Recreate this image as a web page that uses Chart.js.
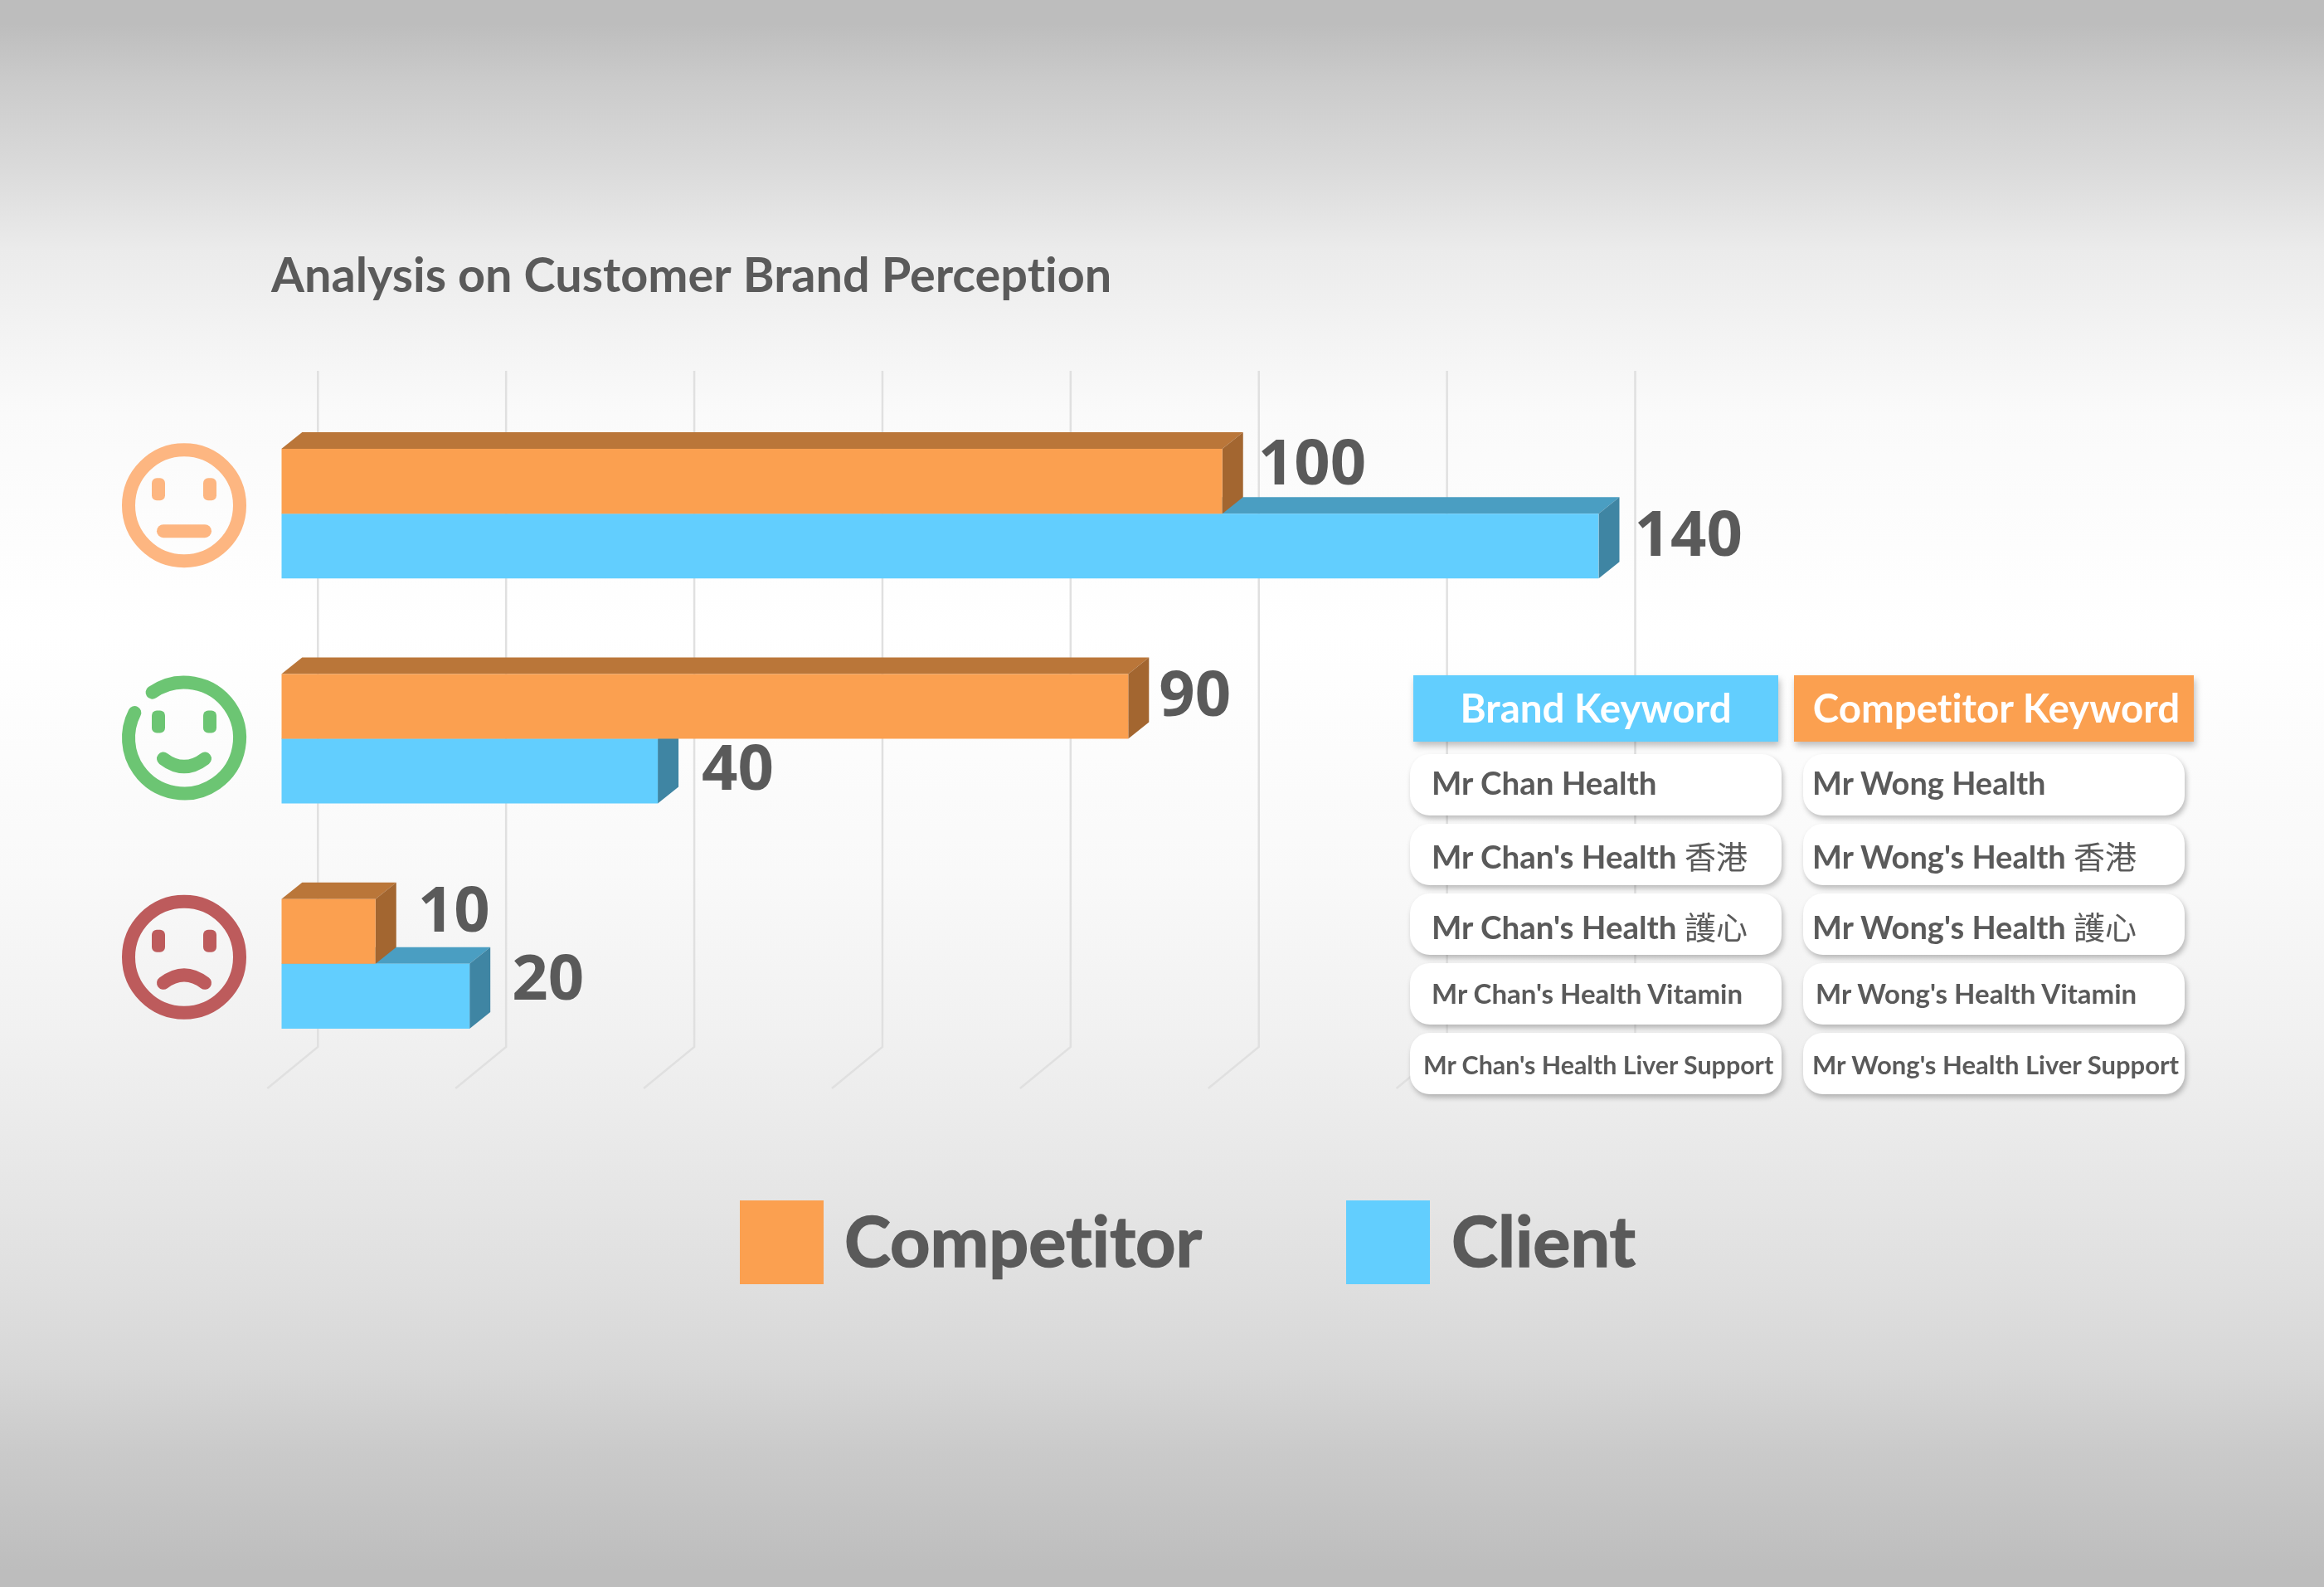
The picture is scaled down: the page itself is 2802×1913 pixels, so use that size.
<!DOCTYPE html>
<html>
<head>
<meta charset="utf-8">
<title>Analysis on Customer Brand Perception</title>
<script src="https://cdn.jsdelivr.net/npm/chart.js@4/dist/chart.umd.min.js"></script>
<style>
  html, body { margin: 0; padding: 0; background: #fff; }
  #stage { position: relative; width: 2802px; height: 1913px; overflow: hidden; font-family: Lato, "Noto Sans CJK TC", sans-serif; font-variant-ligatures: none; }
  #chart { position: absolute; left: 0; top: 0; }
  .head { position: absolute; top: 814px; height: 80px; line-height: 78px; color: #fff; font-weight: 700; font-size: 47.5px; text-align: center; box-shadow: 2px 5px 8px rgba(0,0,0,.25); }
  .pill { position: absolute; height: 74px; background: #fff; border-radius: 24px; color: #5a5a5a; font-weight: 700; white-space: nowrap; box-shadow: 2px 4px 6px rgba(0,0,0,.25); }
  .pill span { font-family: "Noto Sans CJK TC"; font-weight: 400; font-size: 38px; }
</style>
</head>
<body>
<div id="stage">
  <canvas id="chart" width="2802" height="1913"></canvas>
</div>
<script>
const categories = ['Neutral', 'Positive', 'Negative'];
const competitorValues = [100, 90, 10];
const clientValues = [140, 40, 20];
const xTicks = [0, 20, 40, 60, 80, 100, 120, 140];
const brandKeywords = ['Mr Chan Health', "Mr Chan's Health 香港", "Mr Chan's Health 護心", "Mr Chan's Health Vitamin", "Mr Chan's Health Liver Support"];
const competitorKeywords = ['Mr Wong Health', "Mr Wong's Health 香港", "Mr Wong's Health 護心", "Mr Wong's Health Vitamin", "Mr Wong's Health Liver Support"];

const ORANGE = '#fba050', ORANGE_TOP = '#ba7639', ORANGE_SIDE = '#a36630';
const BLUE = '#62cefe', BLUE_TOP = '#4a9ec2', BLUE_SIDE = '#3f85a3';
const TEXT = '#5a5a5a';
const DEPTH_X = 25, DEPTH_Y = 20;

// hand nudges for the value labels, the source placed them a bit unevenly
const nudgeX = [[18, 12, 26], [18, 28, 26]];
const nudgeY = [[-18, -10, -21], [-10, 1, -18]];

const background = {
    id: 'background',
    beforeDraw(chart) {
        const ctx = chart.ctx;
        const g = ctx.createLinearGradient(0, 0, 0, chart.height);
        g.addColorStop(0, '#bdbdbd');
        g.addColorStop(0.015, '#bdbdbd');
        g.addColorStop(0.052, '#cbcbcb');
        g.addColorStop(0.105, '#dadada');
        g.addColorStop(0.157, '#ebebeb');
        g.addColorStop(0.21, '#f3f3f3');
        g.addColorStop(0.26, '#fafafa');
        g.addColorStop(0.40, '#ffffff');
        g.addColorStop(0.55, '#f9f9f9');
        g.addColorStop(0.65, '#f1f1f1');
        g.addColorStop(0.732, '#e8e8e8');
        g.addColorStop(0.81, '#dfdfdf');
        g.addColorStop(0.8625, '#d7d7d7');
        g.addColorStop(0.915, '#cacaca');
        g.addColorStop(0.94, '#c6c6c6');
        g.addColorStop(0.99, '#bdbdbd');
        ctx.fillStyle = g;
        ctx.fillRect(0, 0, chart.width, chart.height);
        ctx.textRendering = 'optimizeSpeed'; // no "ti" ligature in Lato
    }
};

// back wall + floor lines, pushed behind the bars
const wallGrid = {
    id: 'wallGrid',
    beforeDatasetsDraw(chart) {
        const ctx = chart.ctx, x = chart.scales.x;
        ctx.save();
        ctx.strokeStyle = '#e0e0e0';
        ctx.lineWidth = 2.5;
        x.ticks.forEach(t => {
            const px = x.getPixelForValue(t.value) + 44;
            ctx.beginPath();
            ctx.moveTo(px, 447);
            ctx.lineTo(px, 1262);
            ctx.lineTo(px - 61, 1312);
            ctx.stroke();
        });
        ctx.restore();
    }
};

// top and side faces of the bars
const barFaces = {
    id: 'barFaces',
    beforeDatasetsDraw(chart) {
        const ctx = chart.ctx;
        const poly = (color, pts) => {
            ctx.fillStyle = color;
            ctx.beginPath();
            pts.forEach((p, i) => i ? ctx.lineTo(p[0], p[1]) : ctx.moveTo(p[0], p[1]));
            ctx.closePath();
            ctx.fill();
        };
        [1, 0].forEach(d => {
            chart.getDatasetMeta(d).data.forEach(bar => {
                const top = bar.y - bar.height / 2, bot = bar.y + bar.height / 2;
                poly(d ? BLUE_TOP : ORANGE_TOP, [[bar.base, top], [bar.base + DEPTH_X, top - DEPTH_Y], [bar.x + DEPTH_X, top - DEPTH_Y], [bar.x, top]]);
                poly(d ? BLUE_SIDE : ORANGE_SIDE, [[bar.x, top], [bar.x + DEPTH_X, top - DEPTH_Y], [bar.x + DEPTH_X, bot - DEPTH_Y], [bar.x, bot]]);
            });
        });
    }
};

const valueLabels = {
    id: 'valueLabels',
    afterDatasetsDraw(chart) {
        const ctx = chart.ctx;
        ctx.save();
        ctx.font = '700 76px "Open Sans"';
        ctx.fillStyle = TEXT;
        ctx.textBaseline = 'middle';
        chart.data.datasets.forEach((ds, d) => {
            chart.getDatasetMeta(d).data.forEach((bar, i) => {
                ctx.fillText(ds.data[i], bar.x + DEPTH_X + nudgeX[d][i], bar.y + nudgeY[d][i]);
            });
        });
        ctx.restore();
    }
};

// smiley faces next to the category rows
const faceColors = ['#fdb681', '#6cc573', '#bd5b5c'];
const faceNudge = [-10, -1, -8];
const faces = {
    id: 'faces',
    afterDraw(chart) {
        const ctx = chart.ctx, y = chart.scales.y;
        categories.forEach((c, i) => {
            const cx = 222, cy = y.getPixelForValue(i) + faceNudge[i];
            ctx.save();
            ctx.strokeStyle = ctx.fillStyle = faceColors[i];
            ctx.lineWidth = 16;
            ctx.lineCap = 'round';
            ctx.beginPath();
            if (c === 'Positive') ctx.arc(cx, cy, 67, 235 * Math.PI / 180, (207 + 360) * Math.PI / 180);
            else ctx.arc(cx, cy, 67, 0, Math.PI * 2);
            ctx.stroke();
            [-31, 31].forEach(dx => {
                ctx.beginPath();
                ctx.roundRect(cx + dx - 8, cy - 33, 16, 27, 6);
                ctx.fill();
            });
            ctx.beginPath();
            if (c === 'Neutral') { ctx.moveTo(cx - 25, cy + 31); ctx.lineTo(cx + 25, cy + 31); }
            if (c === 'Positive') { ctx.moveTo(cx - 25, cy + 25); ctx.quadraticCurveTo(cx, cy + 44, cx + 25, cy + 25); }
            if (c === 'Negative') { ctx.moveTo(cx - 25, cy + 31); ctx.quadraticCurveTo(cx, cy + 12, cx + 25, cy + 31); }
            ctx.stroke();
            ctx.restore();
        });
    }
};

const bottomLegend = {
    id: 'bottomLegend',
    afterDraw(chart) {
        const ctx = chart.ctx;
        const boxX = [892, 1623], textX = [1018, 1750];
        ctx.save();
        ctx.font = '700 84.5px Lato';
        ctx.textBaseline = 'middle';
        ctx.lineWidth = 1.5; // Lato bold is a bit thin next to the original
        chart.data.datasets.forEach((ds, i) => {
            ctx.fillStyle = ds.backgroundColor;
            ctx.fillRect(boxX[i], 1447, 101, 101);
            ctx.fillStyle = ctx.strokeStyle = TEXT;
            ctx.fillText(ds.label, textX[i], 1500);
            ctx.strokeText(ds.label, textX[i], 1500);
        });
        ctx.restore();
    }
};

new Chart(document.getElementById('chart'), {
    type: 'bar',
    data: {
        labels: categories,
        datasets: [
            { label: 'Competitor', data: competitorValues, backgroundColor: ORANGE, categoryPercentage: 156 / 271, barPercentage: 1 },
            { label: 'Client', data: clientValues, backgroundColor: BLUE, categoryPercentage: 156 / 271, barPercentage: 1 }
        ]
    },
    options: {
        indexAxis: 'y',
        responsive: false,
        animation: false,
        devicePixelRatio: 1,
        layout: { padding: { left: 327, right: 874.5, top: 0, bottom: 615.5 } },
        plugins: {
            legend: { display: false },
            tooltip: { enabled: false },
            title: {
                display: true,
                text: 'Analysis on Customer Brand Perception',
                align: 'start',
                color: TEXT,
                font: { family: 'Lato', size: 57.6, weight: '700', lineHeight: 1.2 },
                padding: { top: 299, bottom: 115.4 }
            }
        },
        scales: {
            x: {
                min: 0, max: 140,
                afterBuildTicks: s => { s.ticks = xTicks.map(v => ({ value: v })); },
                afterFit: s => { s.height = 0; },
                ticks: { display: false },
                grid: { display: false },
                border: { display: false }
            },
            y: {
                afterFit: s => { s.width = 12.3; },
                ticks: { display: false },
                grid: { display: false },
                border: { display: false }
            }
        }
    },
    plugins: [background, wallGrid, barFaces, valueLabels, faces, bottomLegend]
});

// keyword table is plain html on top of the chart
const stage = document.getElementById('stage');
const rowLineHeight = [69, 76, 78, 72, 76];
function addHead(text, left, right, color, indent) {
    const el = document.createElement('div');
    el.className = 'head';
    el.textContent = text;
    el.style.left = left + 'px';
    el.style.width = (right - left - indent) + 'px';
    el.style.paddingLeft = indent + 'px';
    el.style.background = color;
    stage.appendChild(el);
}
function addPills(list, left, right, textLeft, sizes) {
    list.forEach((kw, i) => {
        const el = document.createElement('div');
        el.className = 'pill';
        el.style.left = left + 'px';
        el.style.top = (909 + 84 * i) + 'px';
        el.style.width = (right - left - textLeft[i]) + 'px';
        el.style.paddingLeft = textLeft[i] + 'px';
        el.style.fontSize = sizes[i] + 'px';
        el.style.lineHeight = rowLineHeight[i] + 'px';
        el.innerHTML = kw.replace(/([^\x00-\x7f]+)/, '<span>$1</span>');
        stage.appendChild(el);
    });
}
addHead('Brand Keyword', 1704, 2144, BLUE, 0);
addHead('Competitor Keyword', 2163, 2645, ORANGE, 6);
addPills(brandKeywords, 1700, 2148, [26, 26, 26, 26, 16], [38.5, 38.5, 38.5, 33, 30.4]);
addPills(competitorKeywords, 2174, 2634, [11, 11, 11, 15, 11], [38, 38, 38, 33, 31]);
</script>
</body>
</html>
